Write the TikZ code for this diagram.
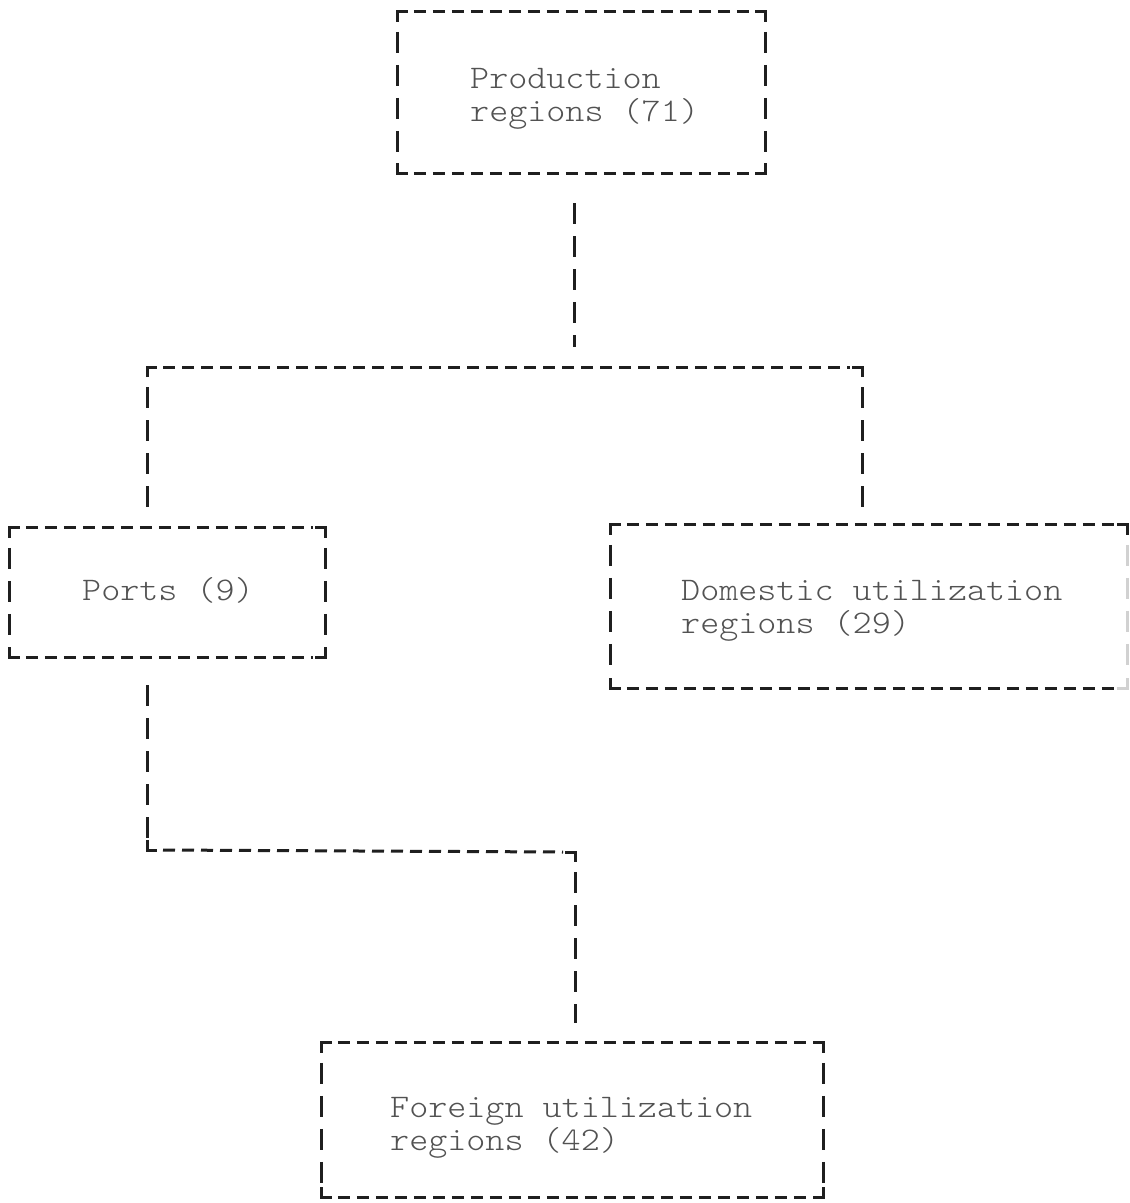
\documentclass[tikz,border=0pt]{standalone}
\usepackage{fontspec}
\usepackage{graphicx}
\usetikzlibrary{calc}

\tikzset{
  ink/.style={draw=black!88, line width=3pt},
  hdash/.style={ink, dash pattern=on 12pt off 7pt, dash phase=-4pt},
  vdash/.style={ink, dash pattern=on 21pt off 12pt, dash phase=-6pt},
  corner/.style={ink, line cap=butt},
  frame/.style={inner sep=0pt, draw=none},
  label/.style={inner sep=0pt, anchor=base west, text=black!68},
}

% typewriter lettering: light mono, slightly widened to a 19pt pitch
\newcommand{\typed}[1]{\scalebox{1.1}[1]{%
  \fontsize{33}{33}\ttfamily\fontseries{l}\selectfont
  \begin{tabular}[t]{@{}l@{}}#1\end{tabular}}}

% dashed typewriter-style frame round a named node, with solid corners
\newcommand{\typeframe}[2][ink]{%
  \draw[corner] ($(#2.north west)+(0,10)$) -- (#2.north west) -- ($(#2.north west)+(10,0)$);
  \draw[corner] ($(#2.north east)+(-10,0)$) -- (#2.north east) -- ($(#2.north east)+(0,10)$);
  \draw[corner] ($(#2.south west)+(0,-10)$) -- (#2.south west) -- ($(#2.south west)+(10,0)$);
  \draw[hdash] ($(#2.north west)+(12,0)$) -- ($(#2.north east)+(-12,0)$);
  \draw[hdash] ($(#2.south west)+(12,0)$) -- ($(#2.south east)+(-12,0)$);
  \draw[vdash] ($(#2.north west)+(0,14)$) -- ($(#2.south west)+(0,-12)$);
  \draw[vdash,#1] ($(#2.north east)+(0,14)$) -- ($(#2.south east)+(0,-12)$);
  \draw[corner,#1] ($(#2.south east)+(-10,0)$) -- (#2.south east) -- ($(#2.south east)+(0,-10)$);
}

\begin{document}
\begin{tikzpicture}[x=1pt, y=-1pt]
  \useasboundingbox[fill=white] (0,0) rectangle (1130,1203);

  % boxes
  \node[frame, minimum width=367pt, minimum height=161pt] (prod) at (581.5,92.5) {};
  \node[frame, minimum width=315pt, minimum height=129pt] (ports) at (167.5,592.5) {};
  \node[frame, minimum width=516pt, minimum height=163pt] (dom) at (869,606.5) {};
  \node[frame, minimum width=501pt, minimum height=154pt] (for) at (572.5,1120) {};

  \typeframe{prod}
  \typeframe{ports}
  \typeframe[draw=black!18]{dom}
  \typeframe{for}

  % labels
  \node[label] (prodtxt) at (470,88) {\typed{Production\\regions (71)}};
  \node[label] (portstxt) at (82,600) {\typed{Ports (9)}};
  \node[label] (domtxt) at (681,600) {\typed{Domestic utilization\\regions (29)}};
  \node[label] (fortxt) at (390,1117) {\typed{Foreign utilization\\regions (42)}};

  % junction points of the connectors
  \coordinate (split) at (574,367);
  \coordinate (splitL) at (147,367);
  \coordinate (splitR) at (862,367);
  \coordinate (bendL) at (147,850);
  \coordinate (bendR) at (575,852);

  % production -> split
  \draw[vdash] ($(prod.south)+(-7.5,24)$) -- ($(split)+(0,-20)$);
  % split bar
  \draw[corner] ($(splitL)+(0,10)$) -- (splitL) -- ($(splitL)+(10,0)$);
  \draw[hdash] ($(splitL)+(12,0)$) -- ($(splitR)+(-12,0)$);
  \draw[corner] ($(splitR)+(-10,0)$) -- (splitR) -- ($(splitR)+(0,10)$);
  \draw[vdash] ($(splitL)+(0,14)$) -- ($(ports.north)+(-20.5,-20)$);
  \draw[vdash] ($(splitR)+(0,14)$) -- ($(dom.north)+(-7,-18)$);

  % ports -> foreign
  \draw[vdash] ($(ports.south)+(-20.5,22)$) -- ($(bendL)+(0,-12)$);
  \draw[corner] ($(bendL)+(0,-10)$) -- (bendL) -- ($(bendL)+(10,0)$);
  \draw[hdash] ($(bendL)+(12,0)$) -- ($(bendR)+(-12,0)$);
  \draw[corner] ($(bendR)+(-10,0)$) -- (bendR) -- ($(bendR)+(0,10)$);
  \draw[vdash] ($(bendR)+(0,14)$) -- ($(for.north)+(2.5,-20)$);
\end{tikzpicture}
\end{document}
